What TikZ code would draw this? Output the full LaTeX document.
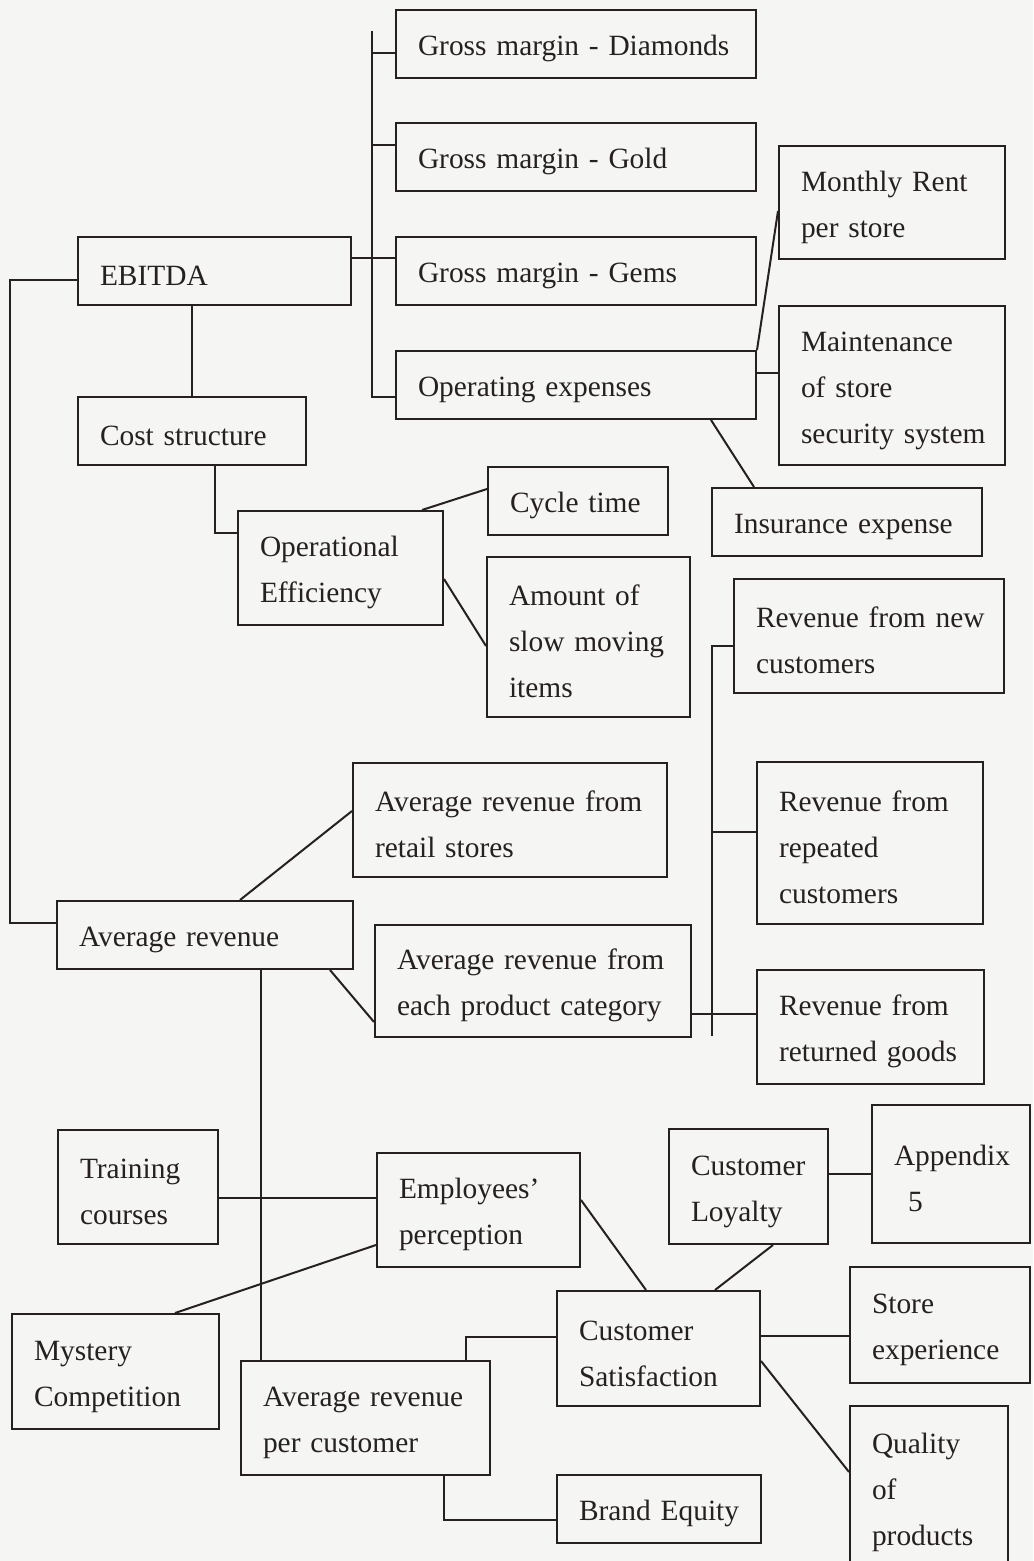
\documentclass[tikz,border=0pt]{standalone}
\usepackage{fontspec}
\setmainfont{Liberation Serif}
% one unbreakable line of box text
\newcommand{\boxline}[1]{\mbox{#1}}
\begin{document}
\definecolor{paper}{RGB}{245,245,243}
\definecolor{ink}{RGB}{38,32,32}
\begin{tikzpicture}[x=0.5pt,y=-0.5pt,
  box/.style={draw=ink, line width=1pt, anchor=north west, inner xsep=11pt,
    inner ysep=0pt, align=left, text=ink, font=\fontsize{14.7}{23}\selectfont,
    execute at begin node={\rule{0pt}{15pt}}},
  link/.style={draw=ink, line width=1pt}]
\useasboundingbox (0,0) rectangle (1033,1561);
\clip (0,0) rectangle (1033,1561);
\fill[paper] (0,0) rectangle (1033,1561);

% profitability branch
\node[box, text width=158pt, minimum height=34pt] (dia)  at (395,9)   {\boxline{Gross margin - Diamonds}};
\node[box, text width=158pt, minimum height=34pt] (gold) at (395,122) {\boxline{Gross margin - Gold}};
\node[box, text width=158pt, minimum height=34pt] (gems) at (395,236) {\boxline{Gross margin - Gems}};
\node[box, text width=158pt, minimum height=34pt] (opex) at (395,350) {\boxline{Operating expenses}};
\node[box, text width=91pt, minimum height=56.5pt] (rent) at (778,145) {\boxline{Monthly Rent}\\\boxline{per store}};
\node[box, text width=91pt, minimum height=79.5pt] (maint) at (778,305) {\boxline{Maintenance}\\\boxline{of store}\\\boxline{security system}};
\node[box, text width=113pt, minimum height=34pt] (ins) at (711,487) {\boxline{Insurance expense}};
\node[box, text width=114.5pt, minimum height=34pt] (ebitda) at (77,236) {\boxline{EBITDA}};
\node[box, text width=92pt, minimum height=34pt] (cost) at (77,396) {\boxline{Cost structure}};
\node[box, text width=80.5pt, minimum height=57pt] (opeff) at (237,510) {\boxline{Operational}\\\boxline{Efficiency}};
\node[box, text width=68pt, minimum height=34pt] (cycle) at (487,466) {\boxline{Cycle time}};
\node[box, text width=79.5pt, minimum height=80pt] (slow) at (486,556) {\boxline{Amount of}\\\boxline{slow moving}\\\boxline{items}};

% revenue branch
\node[box, text width=113pt, minimum height=57pt] (newc) at (733,578) {\boxline{Revenue from new}\\\boxline{customers}};
\node[box, text width=91pt, minimum height=81pt] (rep) at (756,761) {\boxline{Revenue from}\\\boxline{repeated}\\\boxline{customers}};
\node[box, text width=91.5pt, minimum height=57pt] (ret) at (756,969) {\boxline{Revenue from}\\\boxline{returned goods}};
\node[box, text width=135pt, minimum height=57pt] (retail) at (352,762) {\boxline{Average revenue from}\\\boxline{retail stores}};
\node[box, text width=126pt, minimum height=34pt] (avgrev) at (56,900) {\boxline{Average revenue}};
\node[box, text width=136pt, minimum height=56pt] (cat) at (374,924) {\boxline{Average revenue from}\\\boxline{each product category}};

% customer branch
\node[box, text width=58pt, minimum height=57pt] (train) at (57,1129) {\boxline{Training}\\\boxline{courses}};
\node[box, text width=79.5pt, minimum height=57pt] (emp) at (376,1152) {\boxline{Employees’}\\\boxline{perception}};
\node[box, text width=81.5pt, minimum height=57.5pt] (myst) at (11,1313) {\boxline{Mystery}\\\boxline{Competition}};
\node[box, text width=102.5pt, minimum height=57pt] (arpc) at (240,1360) {\boxline{Average revenue}\\\boxline{per customer}};
\node[box, text width=80pt, minimum height=34pt] (brand) at (556,1474) {\boxline{Brand Equity}};
\node[box, text width=57.5pt, minimum height=57.5pt] (loyal) at (668,1128) {\boxline{Customer}\\\boxline{Loyalty}};
\node[box, text width=57pt, minimum height=69pt] (app) at (871,1104) {\boxline{Appendix}\\\hspace*{7pt}\boxline{5}};
\node[box, text width=79.5pt, minimum height=57.5pt] (sat) at (556,1290) {\boxline{Customer}\\\boxline{Satisfaction}};
\node[box, text width=68pt, minimum height=58pt] (store) at (849,1266) {\boxline{Store}\\\boxline{experience}};
\node[box, text width=57pt, minimum height=82pt] (qual) at (849,1405) {\boxline{Quality}\\\boxline{of}\\\boxline{products}};

% connectors: profitability
\coordinate (bus) at (372,31);
\draw[link] (bus) -- (bus |- 0,397) -- (opex.west |- 0,397);
\draw[link] (bus |- 0,53) -- (dia.west |- 0,53);
\draw[link] (bus |- 0,145) -- (gold.west |- 0,145);
\draw[link] (ebitda.east |- 0,258) -- (gems.west |- 0,258);
\draw[link] (ebitda.south -| 192,0) -- (cost.north -| 192,0);
\draw[link] (cost.south -| 215,0) |- (opeff.west |- 0,533);
\draw[link] (opex.north east) -- (rent.west |- 0,211);
\draw[link] (opex.east |- 0,373) -- (maint.west |- 0,373);
\draw[link] (opex.south -| 711,0) -- (ins.north -| 754,0);
\draw[link] (opeff.north -| 422,0) -- (cycle.west |- 0,489);
\draw[link] (opeff.east |- 0,579) -- (slow.west |- 0,646);

% connectors: revenue
\draw[link] (ebitda.west |- 0,280) -| (10,923) -- (avgrev.west |- 0,923);
\draw[link] (avgrev.north -| 240,0) -- (retail.west |- 0,811);
\draw[link] (avgrev.south -| 330,0) -- (cat.west |- 0,1022);
\coordinate (rbus) at (712,646);
\draw[link] (newc.west |- 0,646) -- (rbus) -- (rbus |- 0,1036);
\draw[link] (rbus |- 0,832) -- (rep.west |- 0,832);
\draw[link] (cat.east |- 0,1014) -- (ret.west |- 0,1014);

% connectors: customers
\draw[link] (avgrev.south -| 261,0) -- (arpc.north -| 261,0);
\draw[link] (train.east |- 0,1198) -- (emp.west |- 0,1198);
\draw[link] (myst.north -| 175,0) -- (emp.west |- 0,1245);
\draw[link] (emp.east |- 0,1200) -- (sat.north -| 646,0);
\draw[link] (loyal.south -| 773,0) -- (sat.north -| 715,0);
\draw[link] (loyal.east |- 0,1174) -- (app.west |- 0,1174);
\draw[link] (sat.west |- 0,1337) -| (arpc.north -| 466,0);
\draw[link] (sat.east |- 0,1336) -- (store.west |- 0,1336);
\draw[link] (sat.east |- 0,1361) -- (qual.west |- 0,1472);
\draw[link] (arpc.south -| 444,0) |- (brand.west |- 0,1520);
\end{tikzpicture}
\end{document}
